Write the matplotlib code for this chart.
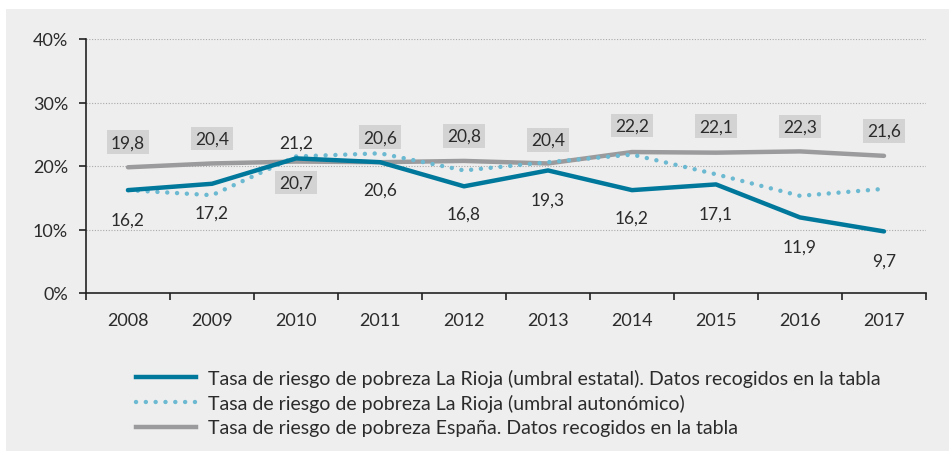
import matplotlib
matplotlib.use("Agg")
import matplotlib.pyplot as plt
from matplotlib.patches import Rectangle
from matplotlib.lines import Line2D
import numpy as np

# data
years = ["2008", "2009", "2010", "2011", "2012", "2013", "2014", "2015", "2016", "2017"]
rioja_estatal = [16.2, 17.2, 21.2, 20.6, 16.8, 19.3, 16.2, 17.1, 11.9, 9.7]
rioja_autonomico = [16.2, 15.4, 21.5, 22.0, 19.3, 20.6, 21.8, 18.7, 15.3, 16.4]
espana = [19.8, 20.4, 20.7, 20.6, 20.8, 20.4, 22.2, 22.1, 22.3, 21.6]
yticks = [0, 10, 20, 30, 40]
legend_labels = [
    "Tasa de riesgo de pobreza La Rioja (umbral estatal). Datos recogidos en la tabla",
    "Tasa de riesgo de pobreza La Rioja (umbral autonómico)",
    "Tasa de riesgo de pobreza España. Datos recogidos en la tabla",
]

# label offsets in points (above = positive)
off_estatal = [-21, -21, 11, -20, -20, -21, -20, -21, -21, -21]
off_espana = [18, 18, -15, 18, 18, 17, 19, 19, 18, 18]

BLUE = "#00789c"
LIGHT = "#6cb9d2"
GRAY = "#9b9b9d"
BG = "#eeeeee"
TXT = "#2b2b2b"
FONT = ["Lato", "DejaVu Sans"]

fig = plt.figure(figsize=(9.49, 4.52), dpi=100)
fig.patch.set_facecolor("white")
fig.patches.append(Rectangle((6 / 949, 0), 1, 1 - 10 / 452, transform=fig.transFigure,
                             facecolor=BG, edgecolor="none", zorder=-10))

ax = fig.add_axes([86 / 949, 158 / 452, 840 / 949, 254 / 452])
ax.set_facecolor("none")

x = np.arange(len(years))
ax.plot(x, espana, color=GRAY, lw=3.2, solid_capstyle="round", zorder=3)
ax.plot(x, rioja_autonomico, color=LIGHT, lw=3.2, linestyle=(0, (0.01, 2.2)),
        dash_capstyle="round", zorder=4)
ax.plot(x, rioja_estatal, color=BLUE, lw=3.2, solid_capstyle="round", zorder=5)

for i, v in enumerate(espana):
    ax.annotate(f"{v:.1f}".replace(".", ","), (x[i], v), xytext=(0, off_espana[i]),
                textcoords="offset points", ha="center", va="center",
                fontsize=12.5, color=TXT, family=FONT, zorder=6,
                bbox=dict(boxstyle="square,pad=0.22", facecolor="#d3d3d4", edgecolor="none"))
for i, v in enumerate(rioja_estatal):
    ax.annotate(f"{v:.1f}".replace(".", ","), (x[i], v), xytext=(0, off_estatal[i]),
                textcoords="offset points", ha="center", va="center",
                fontsize=12.5, color=TXT, family=FONT, zorder=6)

ax.set_xlim(-0.5, len(years) - 0.5)
ax.set_ylim(0, 40)
ax.set_xticks(np.arange(len(years) + 1) - 0.5)
ax.set_xticklabels([])
ax.set_xticks(x, minor=True)
ax.set_xticklabels(years, minor=True, fontsize=13, color=TXT, family=FONT)
ax.tick_params(axis="x", which="minor", length=0, pad=14)
ax.tick_params(axis="x", which="major", length=5, width=1.2, color="#222222")
ax.set_yticks(yticks)
ax.set_yticklabels([f"{t}%" for t in yticks], fontsize=13, color=TXT, family=FONT)
ax.tick_params(axis="y", length=5, width=1.2, color="#222222", pad=8)

for t in yticks[1:]:
    ax.axhline(t, color="#aaaaaa", lw=0.8, linestyle=(0, (1, 1.5)), zorder=1)

for s in ["top", "right"]:
    ax.spines[s].set_visible(False)
for s in ["left", "bottom"]:
    ax.spines[s].set_color("#222222")
    ax.spines[s].set_linewidth(1.2)

handles = [
    Line2D([], [], color=BLUE, lw=3.2),
    Line2D([], [], color=LIGHT, lw=3.2, linestyle=(0, (0.01, 2.2)), dash_capstyle="round"),
    Line2D([], [], color=GRAY, lw=3.2),
]
leg = fig.legend(handles, legend_labels, loc="upper left", bbox_to_anchor=(118 / 949, 1 - 352 / 452),
                 frameon=False, handlelength=3.1, handletextpad=0.62, labelspacing=0.38,
                 prop={"family": FONT, "size": 14})
for t in leg.get_texts():
    t.set_color(TXT)

fig.savefig("out.png", dpi=100, facecolor=fig.get_facecolor())
